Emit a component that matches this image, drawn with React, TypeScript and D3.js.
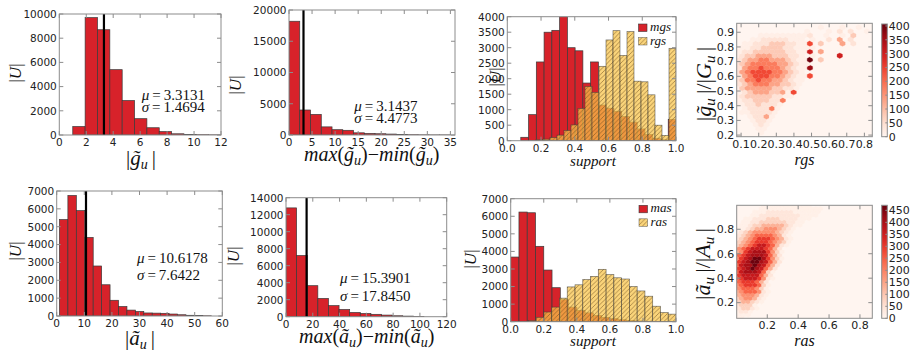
import React from "react";
import * as d3 from "d3";

const W = 918;
const H = 352;

const RED = "#d7222a";
const ORANGE = "#f8c449";
const EDGE = "#3a3a3a";
const SPINE = "#8c8c8c";
const INK = "#222";
const SANS = "'DejaVu Sans', sans-serif";
const SERIF = "'Liberation Serif', 'DejaVu Serif', serif";
const TILDE = "\u0303";

// ---- histogram counts ----
const gSizeRange = [1, 12];
const gSizeCounts = [700, 9700, 8700, 5400, 2850, 1350, 600, 280, 100, 30, 20, 10];
const gSizeMean = 3.3131;
const gSizeSigma = 1.4694;

const gSpanRange = [0, 35];
const gSpanCounts = [18200, 4000, 3300, 1300, 850, 750, 350, 250, 200, 150, 70, 40, 20, 10, 10];
const gSpanMean = 3.1437;
const gSpanSigma = 4.4773;

const aSizeRange = [1, 56];
const aSizeCounts = [5400, 6750, 5900, 4400, 2800, 1750, 880, 530, 330, 250, 170, 160, 150, 110, 70, 40, 20, 10];
const aSizeMean = 10.6178;
const aSizeSigma = 7.6422;

const aSpanRange = [0, 103];
const aSpanCounts = [12800, 7200, 3650, 2150, 1300, 850, 500, 380, 280, 190, 110, 70, 30];
const aSpanMean = 15.3901;
const aSpanSigma = 17.845;

const mgsRange = [0.08, 1.0];
const mgsCounts = [110, 840, 2540, 3500, 3560, 4000, 3000, 2900, 1860, 2540, 1150, 1050, 950, 780, 600, 380, 200, 80, 30, 690];
const rgsRange = [0.17, 1.0];
const rgsCounts = [30, 50, 100, 180, 330, 510, 1040, 1750, 1560, 2400, 3250, 3550, 2750, 3520, 1920, 1900, 1480, 500, 170, 2980];

const masRange = [0, 1.0];
const masCounts = [3680, 6240, 6200, 4290, 2940, 1935, 1250, 830, 640, 500, 360, 250, 170, 110, 75, 45, 25, 15, 8, 5];
const rasRange = [0.06, 1.0];
const rasCounts = [20, 60, 250, 550, 830, 1340, 1980, 2100, 2400, 2580, 2980, 2680, 2500, 2430, 2000, 1750, 1450, 880, 520, 430];

// ---- hexbin counts: one string per hex row (row 0 at the bottom), one char per cell ----
const hexLevels = [0, 15, 40, 80, 130, 180, 240, 300, 360, 400, 465];

const rgsHexRows = [
  "",
  "00001",
  "000011",
  "000121",
  "0001221",
  "0012241",
  "01122221",
  "01222251",
  "112232221",
  "122333225",
  "12333332211",
  "12344433416",
  "134444433221",
  "234555443321",
  "2355655443211",
  "24566655432116",
  "2456666554321",
  "24556555432118",
  "23455555443211",
  "2344554443211903",
  "12334443332210100007",
  "1223333332211704",
  "011223333221111",
  "0112223332211603000402",
  "0001122222111010020402",
  "0000111111111200100103",
  "0000000000000100010202001",
  "000000000000000100010010",
  "",
];

const rasHexRows = [
  "11",
  "111",
  "1221",
  "23321",
  "23331",
  "344321",
  "3455421",
  "4555421",
  "45666521",
  "5666531",
  "56777631",
  "6777642",
  "678887521",
  "78888642",
  "689998631",
  "789a98642",
  "6899a98642",
  "789aa98642",
  "5789aa97531",
  "6789998642",
  "45789997531",
  "5678887642",
  "345678876421",
  "345677765431",
  "2345677765421",
  "234566665421",
  "1234555554321",
  "1123445554321",
  "011233444443211",
  "011223333332211",
  "00112223332222111",
  "0001122222222211110",
  "00001112222221111110",
  "0000011111111111111",
  "000000111111111110",
];

type Box = { x0: number; y0: number; x1: number; y1: number };

function Frame({ box, x, y, xTicks, yTicks, xFmt, yFmt, fs = 10.5 }: any) {
  return (
    <g>
      <rect x={box.x0} y={box.y0} width={box.x1 - box.x0} height={box.y1 - box.y0} fill="none" stroke={SPINE} strokeWidth={1} />
      {xTicks.map((t: number) => (
        <g key={"x" + t}>
          <line x1={x(t)} x2={x(t)} y1={box.y1} y2={box.y1 - 4} stroke={SPINE} />
          <line x1={x(t)} x2={x(t)} y1={box.y0} y2={box.y0 + 4} stroke={SPINE} />
          <text x={x(t)} y={box.y1 + 11} textAnchor="middle" fontFamily={SANS} fontSize={fs} fill={INK}>
            {xFmt(t)}
          </text>
        </g>
      ))}
      {yTicks.map((t: number) => (
        <g key={"y" + t}>
          <line x1={box.x0} x2={box.x0 + 4} y1={y(t)} y2={y(t)} stroke={SPINE} />
          <line x1={box.x1} x2={box.x1 - 4} y1={y(t)} y2={y(t)} stroke={SPINE} />
          <text x={box.x0 - 2.5} y={y(t) + 3.8} textAnchor="end" fontFamily={SANS} fontSize={fs} fill={INK}>
            {yFmt(t)}
          </text>
        </g>
      ))}
    </g>
  );
}

function Hist({ id, box, xDomain, yDomain, xTicks, yTicks, xFmt, yFmt, layers, mean }: any) {
  const x = d3.scaleLinear().domain(xDomain).range([box.x0, box.x1]);
  const y = d3.scaleLinear().domain(yDomain).range([box.y1, box.y0]);
  return (
    <g>
      <clipPath id={id}>
        <rect x={box.x0} y={box.y0} width={box.x1 - box.x0} height={box.y1 - box.y0} />
      </clipPath>
      <g clipPath={`url(#${id})`}>
        {layers.map((L: any, li: number) => {
          const w = (L.range[1] - L.range[0]) / L.counts.length;
          return L.counts.map((c: number, i: number) => {
            const a = L.range[0] + i * w;
            const px = x(a);
            const pw = x(a + w) - x(a);
            const py = y(c);
            const ph = y(0) - y(c);
            if (L.hatch) {
              return (
                <g key={`${li}-${i}`}>
                  <rect x={px} y={py} width={pw} height={ph} fill={ORANGE} fillOpacity={0.73} />
                  <rect x={px} y={py} width={pw} height={ph} fill="url(#hatch)" />
                  <rect x={px} y={py} width={pw} height={ph} fill="none" stroke={EDGE} strokeWidth={0.7} strokeOpacity={0.7} />
                </g>
              );
            }
            return <rect key={`${li}-${i}`} x={px} y={py} width={pw} height={ph} fill={RED} stroke={EDGE} strokeWidth={0.7} />;
          });
        })}
        {mean != null && <line x1={x(mean)} x2={x(mean)} y1={box.y0} y2={box.y1} stroke="#000" strokeWidth={2.2} />}
      </g>
      <Frame box={box} x={x} y={y} xTicks={xTicks} yTicks={yTicks} xFmt={xFmt} yFmt={yFmt} />
    </g>
  );
}

function HexPanel({ id, box, xDomain, yDomain, nx, rows, vmax, xTicks, yTicks }: any) {
  const x = d3.scaleLinear().domain(xDomain).range([box.x0, box.x1]);
  const y = d3.scaleLinear().domain(yDomain).range([box.y1, box.y0]);
  const ny = Math.floor(nx / Math.sqrt(3));
  const sx = (xDomain[1] - xDomain[0]) / nx;
  const sy = (yDomain[1] - yDomain[0]) / ny;
  const shape = [[0.5, -0.5], [0.5, 0.5], [0, 1], [-0.5, 0.5], [-0.5, -0.5], [0, -1]].map(([a, b]) => [a * sx, (b * sy) / 3]);
  const cells: any[] = [];
  rows.forEach((row: string, k: number) => {
    row.split("").forEach((ch, i) => {
      const count = hexLevels[parseInt(ch, 36)] || 0;
      if (!count) return;
      const cx = xDomain[0] + (i + (k % 2 ? 0.5 : 0)) * sx;
      const cy = yDomain[0] + (k * sy) / 2;
      const pts = shape.map(([dx, dy]) => `${x(cx + dx)},${y(cy + dy)}`).join(" ");
      const col = d3.interpolateReds(Math.min(1, count / vmax));
      cells.push(<polygon key={`${k}-${i}`} points={pts} fill={col} stroke={col} strokeWidth={0.3} />);
    });
  });
  const f = d3.format(".1f");
  return (
    <g>
      <clipPath id={id}>
        <rect x={box.x0} y={box.y0} width={box.x1 - box.x0} height={box.y1 - box.y0} />
      </clipPath>
      <rect x={box.x0} y={box.y0} width={box.x1 - box.x0} height={box.y1 - box.y0} fill={d3.interpolateReds(0)} />
      <g clipPath={`url(#${id})`}>{cells}</g>
      <Frame box={box} x={x} y={y} xTicks={xTicks} yTicks={yTicks} xFmt={f} yFmt={f} fs={11} />
    </g>
  );
}

function Colorbar({ id, box, vmax, ticks }: any) {
  const y = d3.scaleLinear().domain([0, vmax]).range([box.y1, box.y0]);
  const stops = d3.range(0, 1.0001, 0.1);
  return (
    <g>
      <linearGradient id={id} x1="0" y1="1" x2="0" y2="0">
        {stops.map((t) => (
          <stop key={t} offset={t} stopColor={d3.interpolateReds(t)} />
        ))}
      </linearGradient>
      <rect x={box.x0} y={box.y0} width={box.x1 - box.x0} height={box.y1 - box.y0} fill={`url(#${id})`} stroke={SPINE} />
      {ticks.map((t: number) => (
        <g key={t}>
          <line x1={box.x1} x2={box.x1 - 2} y1={y(t)} y2={y(t)} stroke={SPINE} />
          <text x={box.x1 + 1.5} y={y(t) + 4} fontFamily={SANS} fontSize={11} fill={INK}>
            {t}
          </text>
        </g>
      ))}
    </g>
  );
}

function Stats({ x, y, gap, mu, sigma }: any) {
  return (
    <text fontFamily={SERIF} fontSize={15} fill="#111">
      <tspan x={x} y={y}>
        <tspan fontStyle="italic">μ</tspan>
        {"\u2009=\u2009" + mu}
      </tspan>
      <tspan x={x} y={y + gap}>
        <tspan fontStyle="italic">σ</tspan>
        {"\u2009=\u2009" + sigma}
      </tspan>
    </text>
  );
}

function YLabelU({ x, y }: any) {
  return (
    <text transform={`translate(${x},${y}) rotate(-90)`} textAnchor="middle" fontFamily={SERIF} fontSize={17} fill="#111">
      |<tspan fontStyle="italic">U</tspan>|
    </text>
  );
}

function SizeLabel({ x, y, ch }: any) {
  return (
    <text x={x} y={y} textAnchor="middle" fontFamily={SERIF} fontSize={21} fill="#111">
      |<tspan fontStyle="italic">{ch + TILDE}</tspan>
      <tspan fontStyle="italic" fontSize={14} dy={4}>u</tspan>
      <tspan dy={-4}>{"\u2009|"}</tspan>
    </text>
  );
}

function SpanLabel({ x, y, ch }: any) {
  return (
    <text x={x} y={y} textAnchor="middle" fontFamily={SERIF} fontSize={20} fill="#111">
      <tspan fontStyle="italic">max</tspan>(<tspan fontStyle="italic">{ch + TILDE}</tspan>
      <tspan fontStyle="italic" fontSize={14} dy={4}>u</tspan>
      <tspan dy={-4}>)−</tspan>
      <tspan fontStyle="italic">min</tspan>(<tspan fontStyle="italic">{ch + TILDE}</tspan>
      <tspan fontStyle="italic" fontSize={14} dy={4}>u</tspan>
      <tspan dy={-4}>)</tspan>
    </text>
  );
}

function RatioLabel({ x, y, ch, big }: any) {
  return (
    <text transform={`translate(${x},${y}) rotate(-90)`} textAnchor="middle" fontFamily={SERIF} fontSize={22} fill="#111">
      |<tspan fontStyle="italic">{ch + TILDE}</tspan>
      <tspan fontStyle="italic" fontSize={15} dy={4}>u</tspan>
      <tspan dy={-4}>{"\u2009|/|"}</tspan>
      <tspan fontStyle="italic">{big}</tspan>
      <tspan fontStyle="italic" fontSize={15} dy={4}>u</tspan>
      <tspan dy={-4}>{"\u2009|"}</tspan>
    </text>
  );
}

function ItalicLabel({ x, y, text, size = 15 }: any) {
  return (
    <text x={x} y={y} textAnchor="middle" fontFamily={SERIF} fontStyle="italic" fontSize={size} fill="#111">
      {text}
    </text>
  );
}

function Legend({ x, y, a, b }: any) {
  return (
    <g fontFamily={SERIF} fontStyle="italic" fontSize={13} fill="#111">
      <rect x={x} y={y} width={8.5} height={7.5} fill={RED} stroke={EDGE} strokeWidth={0.6} />
      <text x={x + 11.5} y={y + 7}>{a}</text>
      <rect x={x} y={y + 13.5} width={8.5} height={7.5} fill={ORANGE} fillOpacity={0.73} />
      <rect x={x} y={y + 13.5} width={8.5} height={7.5} fill="url(#hatch)" stroke={EDGE} strokeWidth={0.6} strokeOpacity={0.7} />
      <text x={x + 11.5} y={y + 20.5}>{b}</text>
    </g>
  );
}

const intFmt = d3.format("d");
const oneFmt = d3.format(".1f");

export default function App() {
  const p1: Box = { x0: 59.3, y0: 14, x1: 221, y1: 135 };
  const p2: Box = { x0: 289, y0: 10, x1: 455, y1: 135 };
  const p3: Box = { x0: 507.3, y0: 16.7, x1: 676, y1: 140.7 };
  const p4: Box = { x0: 736.7, y0: 23.3, x1: 872.3, y1: 136.7 };
  const c4: Box = { x0: 881.7, y0: 24, x1: 887.3, y1: 136.7 };
  const p5: Box = { x0: 56.7, y0: 191, x1: 222.3, y1: 316 };
  const p6: Box = { x0: 286, y0: 197.7, x1: 446.7, y1: 316.7 };
  const p7: Box = { x0: 510.7, y0: 198.7, x1: 676, y1: 321.7 };
  const p8: Box = { x0: 736.7, y0: 205.3, x1: 872.3, y1: 318.3 };
  const c8: Box = { x0: 881.7, y0: 205.3, x1: 887.3, y1: 318.3 };

  return (
    <div style={{ position: "absolute", left: 0, top: 0 }}>
      <svg width={W} height={H} viewBox={`0 0 ${W} ${H}`} style={{ display: "block", background: "#fff" }}>
        <defs>
          <pattern id="hatch" patternUnits="userSpaceOnUse" width={4.5} height={4.5}>
            <path d="M-1,1 L1,-1 M0,4.5 L4.5,0 M3.5,5.5 L5.5,3.5" stroke="#6a4a1a" strokeWidth={0.7} strokeOpacity={0.75} />
          </pattern>
        </defs>

        {/* top row */}
        <Hist id="c1" box={p1} xDomain={[0, 12]} yDomain={[0, 10000]} xTicks={d3.range(0, 13, 2)} yTicks={d3.range(0, 10001, 2000)}
          xFmt={intFmt} yFmt={intFmt} layers={[{ range: gSizeRange, counts: gSizeCounts }]} mean={gSizeMean} />
        <Stats x={141.7} y={100} gap={11.7} mu={gSizeMean.toFixed(4)} sigma={gSizeSigma.toFixed(4)} />
        <YLabelU x={21} y={73} />
        <SizeLabel x={141} y={165} ch="g" />

        <Hist id="c2" box={p2} xDomain={[0, 36]} yDomain={[0, 20000]} xTicks={d3.range(0, 36, 5)} yTicks={d3.range(0, 20001, 5000)}
          xFmt={intFmt} yFmt={intFmt} layers={[{ range: gSpanRange, counts: gSpanCounts }]} mean={gSpanMean} />
        <Stats x={354.3} y={111} gap={11.5} mu={gSpanMean.toFixed(4)} sigma={gSpanSigma.toFixed(4)} />
        <YLabelU x={241} y={85} />
        <SpanLabel x={371.7} y={161} ch="g" />

        <Hist id="c3" box={p3} xDomain={[0, 1]} yDomain={[0, 4000]} xTicks={d3.range(0, 1.01, 0.2)} yTicks={d3.range(0, 4001, 500)}
          xFmt={oneFmt} yFmt={intFmt}
          layers={[{ range: mgsRange, counts: mgsCounts }, { range: rgsRange, counts: rgsCounts, hatch: true }]} />
        <Legend x={638.5} y={24} a="mgs" b="rgs" />
        <YLabelU x={501} y={77} />
        <ItalicLabel x={593} y={166} text="support" />

        <HexPanel id="c4" box={p4} xDomain={[0.075, 0.845]} yDomain={[0.189, 0.961]} nx={25} rows={rgsHexRows} vmax={407}
          xTicks={d3.range(0.1, 0.81, 0.1)} yTicks={d3.range(0.2, 0.91, 0.1)} />
        <Colorbar id="g4" box={c4} vmax={407} ticks={d3.range(0, 401, 50)} />
        <RatioLabel x={711} y={84} ch="g" big="G" />
        <ItalicLabel x={804.5} y={165} text="rgs" size={16} />

        {/* bottom row */}
        <Hist id="c5" box={p5} xDomain={[0, 60]} yDomain={[0, 7000]} xTicks={d3.range(0, 61, 10)} yTicks={d3.range(0, 7001, 1000)}
          xFmt={intFmt} yFmt={intFmt} layers={[{ range: aSizeRange, counts: aSizeCounts }]} mean={aSizeMean} />
        <Stats x={137} y={262.5} gap={17.5} mu={aSizeMean.toFixed(4)} sigma={aSizeSigma.toFixed(4)} />
        <YLabelU x={21} y={251} />
        <SizeLabel x={140} y={345} ch="a" />

        <Hist id="c6" box={p6} xDomain={[0, 120]} yDomain={[0, 14000]} xTicks={d3.range(0, 121, 20)} yTicks={d3.range(0, 14001, 2000)}
          xFmt={intFmt} yFmt={intFmt} layers={[{ range: aSpanRange, counts: aSpanCounts }]} mean={aSpanMean} />
        <Stats x={340} y={283} gap={17.5} mu={aSpanMean.toFixed(4)} sigma={aSpanSigma.toFixed(4)} />
        <YLabelU x={239} y={256} />
        <SpanLabel x={366.7} y={343} ch="a" />

        <Hist id="c7" box={p7} xDomain={[0, 1]} yDomain={[0, 7000]} xTicks={d3.range(0, 1.01, 0.2)} yTicks={d3.range(0, 7001, 1000)}
          xFmt={oneFmt} yFmt={intFmt}
          layers={[{ range: masRange, counts: masCounts }, { range: rasRange, counts: rasCounts, hatch: true }]} />
        <Legend x={639} y={205.3} a="mas" b="ras" />
        <YLabelU x={476} y={259} />
        <ItalicLabel x={593} y={346} text="support" />

        <HexPanel id="c8" box={p8} xDomain={[0.002, 0.88]} yDomain={[0.072, 0.996]} nx={30} rows={rasHexRows} vmax={471}
          xTicks={d3.range(0.2, 0.81, 0.2)} yTicks={d3.range(0.2, 0.81, 0.2)} />
        <Colorbar id="g8" box={c8} vmax={471} ticks={d3.range(0, 451, 50)} />
        <RatioLabel x={710} y={264} ch="a" big="A" />
        <ItalicLabel x={804.5} y={346} text="ras" size={16} />
      </svg>
    </div>
  );
}
